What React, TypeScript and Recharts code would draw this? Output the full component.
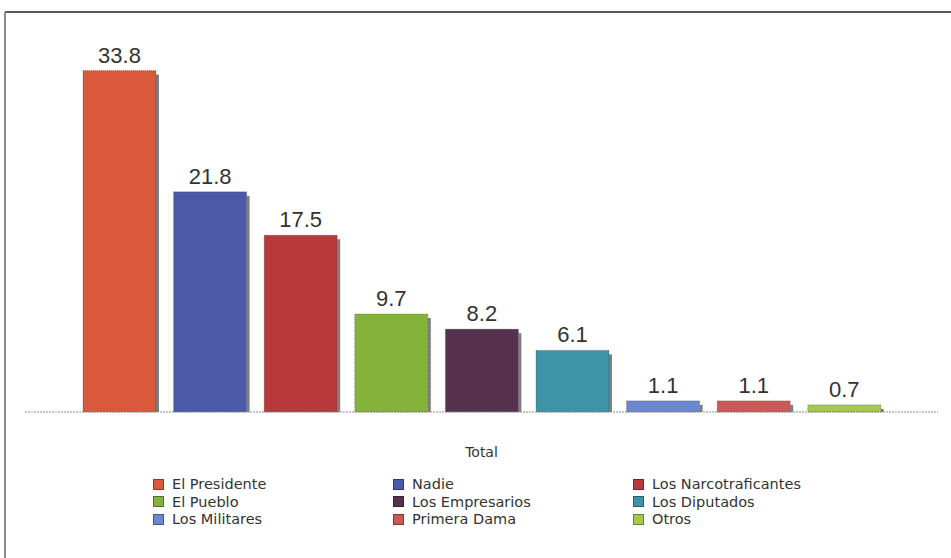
import React from "react";
import { BarChart, Bar, XAxis, YAxis, LabelList } from "recharts";

const categories = [
  "El Presidente",
  "Nadie",
  "Los Narcotraficantes",
  "El Pueblo",
  "Los Empresarios",
  "Los Diputados",
  "Los Militares",
  "Primera Dama",
  "Otros",
];
const values = [33.8, 21.8, 17.5, 9.7, 8.2, 6.1, 1.1, 1.1, 0.7];
const colors = [
  "#da583b",
  "#4b5aa8",
  "#b7393b",
  "#84b23a",
  "#57324f",
  "#3d94a7",
  "#6a87cf",
  "#c95a55",
  "#a6c94c",
];
const groupLabel = "Total";

const keys = categories.map((_, i) => `s${i}`);
const row: Record<string, string | number> = { name: groupLabel };
keys.forEach((k, i) => {
  row[k] = values[i];
});
const data = [row];

const ShadowBar = (props: any) => {
  const { x, y, width, height, fill } = props;
  if (width == null || height == null) return null;
  return (
    <g>
      <rect
        x={x + width}
        y={y + 4}
        width={3}
        height={Math.max(0, height - 4)}
        fill="#3a3a3a"
        opacity={0.65}
      />
      <rect
        x={x}
        y={y}
        width={width}
        height={height}
        fill={fill}
        stroke="#2a2a2a"
        strokeOpacity={0.45}
        strokeDasharray="1 1"
      />
    </g>
  );
};

const legendCols = [153, 393, 633];
const legendRows = [484, 501.5, 519];

export default function App() {
  return (
    <div
      style={{
        position: "absolute",
        left: 0,
        top: 0,
        width: 951,
        height: 558,
        background: "#ffffff",
        overflow: "hidden",
      }}
    >
      <div
        style={{
          position: "absolute",
          left: 5,
          top: 11,
          width: 946,
          height: 2,
          background: "#5a5a5a",
        }}
      />
      <div
        style={{
          position: "absolute",
          left: 4,
          top: 12,
          width: 2,
          height: 546,
          background: "#8a8a8a",
        }}
      />
      <div style={{ position: "absolute", left: 0, top: 0 }}>
        <BarChart
          width={951}
          height={558}
          data={data}
          margin={{ top: 8, right: 13, left: 25, bottom: 86 }}
          barGap={17.6}
        >
          <XAxis
            dataKey="name"
            height={60}
            tickLine={false}
            tickSize={0}
            tickMargin={35}
            axisLine={{ stroke: "#8a8a8a", strokeDasharray: "2 1" }}
            tick={{ fontSize: 14, fill: "#333", fontFamily: "DejaVu Sans" }}
          />
          <YAxis hide domain={[0, 40]} />
          {keys.map((k, i) => (
            <Bar
              key={k}
              dataKey={k}
              name={categories[i]}
              fill={colors[i]}
              barSize={73}
              isAnimationActive={false}
              shape={<ShadowBar />}
            >
              <LabelList
                dataKey={k}
                position="top"
                offset={8}
                style={{
                  fontSize: 22,
                  fill: "#333",
                  fontFamily: "Liberation Sans, Arial, sans-serif",
                }}
              />
            </Bar>
          ))}
        </BarChart>
      </div>
      {categories.map((c, i) => {
        const col = legendCols[i % 3];
        const rowY = legendRows[Math.floor(i / 3)];
        return (
          <div
            key={c}
            style={{
              position: "absolute",
              left: col,
              top: rowY - 9,
              height: 18,
              display: "flex",
              alignItems: "center",
              whiteSpace: "nowrap",
              fontFamily: "DejaVu Sans, sans-serif",
              fontSize: 14.5,
              color: "#333",
            }}
          >
            <span
              style={{
                display: "inline-block",
                width: 11,
                height: 11,
                boxSizing: "border-box",
                background: colors[i],
                border: "1px solid rgba(0,0,0,0.35)",
                marginRight: 8,
              }}
            />
            <span>{c}</span>
          </div>
        );
      })}
    </div>
  );
}
